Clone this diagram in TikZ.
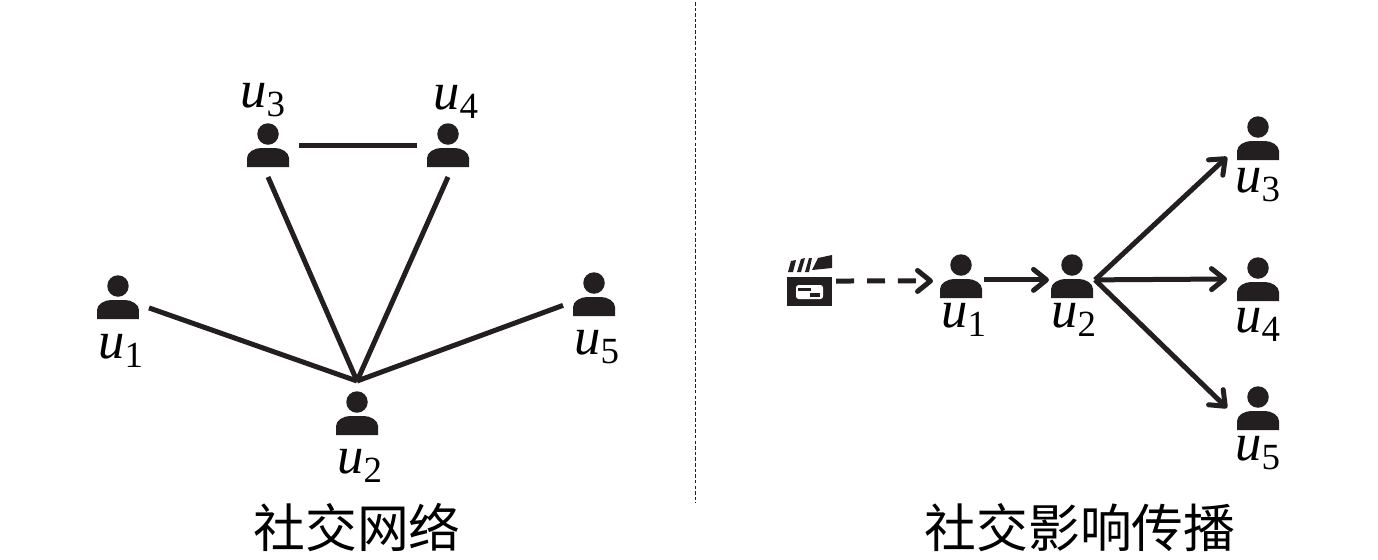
\documentclass[tikz,border=0pt]{standalone}
\usepackage{amsmath}
\usepackage{fontspec}
\setmainfont{Liberation Serif}
\newfontfamily\cjk{Noto Sans CJK SC}
\usetikzlibrary{arrows.meta}
\definecolor{icon_black}{HTML}{231F20}

\begin{document}
\begin{tikzpicture}[%
          x=0.02cm,y=-0.02cm,
          person/.style={
              minimum width=0.84cm,
              minimum height=0.88cm,
              inner sep=0pt,
              outer sep=0.2cm,
              path picture={
                  \begin{scope}[shift={(path picture bounding box.center)}]
                    \fill[icon_black] (0,-11) circle[radius=0.215cm];
                    \fill[icon_black] (-21,22) -- (-21,13)
                      .. controls (-21,7) and (-13,3) .. (-7,3)
                      -- (7,3)
                      .. controls (13,3) and (21,7) .. (21,13)
                      -- (21,22) -- cycle;
                  \end{scope}
                }
            },
          clip_icon/.style={
              minimum width=0.92cm,
              minimum height=1.06cm,
              inner sep=0pt,
              outer sep=0.06cm,
              path picture={
                  \begin{scope}[shift={(path picture bounding box.center)}]
                    \fill[icon_black] (-23,-4) rectangle (22,25);
                    \fill[white,rounded corners=1.5pt] (-14,4) rectangle (13,18);
                    \fill[icon_black] (-12,7) rectangle (1,10);
                    \fill[icon_black] (0,12) rectangle (10,15.5);
                    \fill[icon_black] (-22,-9) -- (-19,-20) -- (-14,-21) -- (-17,-9) -- cycle;
                    \fill[icon_black] (-13,-9) -- (-9,-22) -- (-5,-23) -- (-9,-9) -- cycle;
                    \fill[icon_black] (-5,-9) -- (-1,-23) -- (2,-23) -- (-1,-9) -- cycle;
                    \fill[icon_black] (2,-11) -- (8,-23) -- (22,-26) -- (22,-13) -- cycle;
                  \end{scope}
                }
            },
          user_name/.style={font=\fontsize{30}{30}\selectfont,inner sep=0pt},
          title/.style={font=\fontsize{29.5}{34}\cjk,inner sep=0pt},
          link/.style={line width=0.1cm,icon_black},
          spread/.style={
              line width=0.1cm,
              icon_black,
              -{Straight Barb[length=0.26cm,width=0.42cm,round]}
            }
        ]
        \useasboundingbox (0,0) rectangle (1378,559);

        % 左:社交网络
        \node[person] (l_u1) at (118,297) {};
        \node[person] (l_u2) at (357,413) {};
        \node[person] (l_u3) at (268,145) {};
        \node[person] (l_u4) at (448,145) {};
        \node[person] (l_u5) at (594,294) {};

        \node[user_name] (l_name1) at (121,351) {$\textit{u}_{\text{1}}$};
        \node[user_name] (l_name2) at (360,466) {$\textit{u}_{\text{2}}$};
        \node[user_name] (l_name3) at (263,100) {$\textit{u}_{\text{3}}$};
        \node[user_name] (l_name4) at (456,102) {$\textit{u}_{\text{4}}$};
        \node[user_name] (l_name5) at (597,347) {$\textit{u}_{\text{5}}$};

        \draw[link] (l_u3) -- (l_u4);
        \draw[link] (l_u1) -- (l_u2.north);
        \draw[link] (l_u3.south) -- (l_u2.north);
        \draw[link] (l_u4.south) -- (l_u2.north);
        \draw[link] (l_u5) -- (l_u2.north);

        % 分割线
        \coordinate (split_top) at (695,2);
        \coordinate (split_bottom) at (695,503);
        \draw[icon_black,line width=0.4pt,dash pattern=on 2pt off 1.2pt] (split_top) -- (split_bottom);

        % 右:社交影响传播
        \node[clip_icon] (clip) at (810,281) {};
        \node[person,outer sep=0.04cm] (r_u1) at (961,276) {};
        \node[person,outer sep=0.04cm] (r_u2) at (1072,276) {};
        \node[person] (r_u3) at (1258,138) {};
        \node[person] (r_u4) at (1258,279) {};
        \node[person] (r_u5) at (1258,408) {};

        \node[user_name] (r_name1) at (964,320) {$\textit{u}_{\text{1}}$};
        \node[user_name] (r_name2) at (1074,320) {$\textit{u}_{\text{2}}$};
        \node[user_name] (r_name3) at (1258,185) {$\textit{u}_{\text{3}}$};
        \node[user_name] (r_name4) at (1258,325) {$\textit{u}_{\text{4}}$};
        \node[user_name] (r_name5) at (1258,453) {$\textit{u}_{\text{5}}$};

        \draw[spread,dash pattern=on 0.36cm off 0.26cm,shorten >=0.1cm] (clip.east) -- ([yshift=-2.8pt]r_u1.west);
        \draw[spread] ([yshift=-2.2pt]r_u1.east) -- ([yshift=-2.2pt]r_u2.west);
        \draw[spread] ([yshift=-2.2pt]r_u2.east) -- ([yshift=-10.8pt]r_u3.west);
        \draw[spread] ([yshift=-2.2pt]r_u2.east) -- (r_u4.west);
        \draw[spread] ([yshift=-2.2pt]r_u2.east) -- (r_u5.west);

        % 标题
        \node[title] (title_left) at (357,528) {社交网络};
        \node[title] (title_right) at (1080,528) {社交影响传播};

      \end{tikzpicture}
\end{document}
